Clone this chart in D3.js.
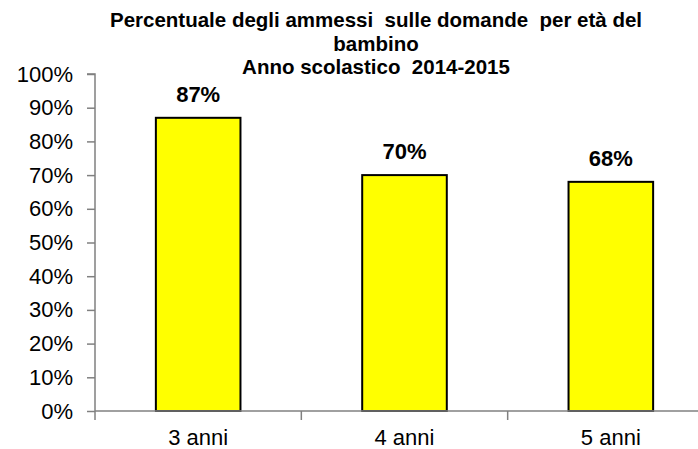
<!DOCTYPE html>
<html>
<head>
<meta charset="utf-8">
<script src="https://cdn.jsdelivr.net/npm/d3@7"></script>
<style>
  body { margin: 0; background: #fff; }
  text { font-family: Arial, "Liberation Sans", sans-serif; }
</style>
</head>
<body>
<div id="chart"></div>
<script>
// data
const categories = ['3 anni', '4 anni', '5 anni'];
const values = [0.87, 0.70, 0.68];
const valueLabels = ['87%', '70%', '68%'];
const yTicks = [0, 0.1, 0.2, 0.3, 0.4, 0.5, 0.6, 0.7, 0.8, 0.9, 1.0];
const titleLines = [
    'Percentuale degli ammessi  sulle domande  per età del',
    'bambino',
    'Anno scolastico  2014-2015'
];

const width = 698;
const height = 449;
const left = 95;
const right = 714;   // plot runs past the right edge in the original
const zeroY = 411;
const topY = 74;

const svg = d3.select('#chart')
    .append('svg')
    .attr('width', width)
    .attr('height', height);

const x = d3.scaleBand()
    .domain(categories)
    .range([left, right])
    .padding(0);

const y = d3.scaleLinear()
    .domain([0, 1])
    .range([zeroY, topY]);

const barW = x.bandwidth() * 0.41;

// title
svg.append('g')
    .selectAll('text')
    .data(titleLines)
    .enter()
    .append('text')
    .attr('x', 376)
    .attr('y', (d, i) => 27 + i * 23.5)
    .attr('text-anchor', 'middle')
    .attr('font-size', 20.5)
    .attr('font-weight', 'bold')
    .attr('fill', '#000')
    .style('white-space', 'pre')
    .text(d => d);

// bars
svg.append('g')
    .selectAll('rect')
    .data(values)
    .enter()
    .append('rect')
    .attr('x', (d, i) => x(categories[i]) + (x.bandwidth() - barW) / 2)
    .attr('y', d => y(d))
    .attr('width', barW)
    .attr('height', d => zeroY - y(d))
    .attr('fill', '#ffff00')
    .attr('stroke', '#000')
    .attr('stroke-width', 2);

// value labels
svg.append('g')
    .selectAll('text')
    .data(values)
    .enter()
    .append('text')
    .attr('x', (d, i) => x(categories[i]) + x.bandwidth() / 2)
    .attr('y', d => y(d) - 16)
    .attr('text-anchor', 'middle')
    .attr('font-size', 22)
    .attr('font-weight', 'bold')
    .text((d, i) => valueLabels[i]);

// y axis
const yAxis = svg.append('g')
    .attr('transform', `translate(${left},0)`)
    .call(d3.axisLeft(y)
        .tickValues(yTicks)
        .tickSize(8)
        .tickPadding(14)
        .tickFormat(d3.format('.0%')));
yAxis.select('.domain').attr('stroke', '#808080').attr('stroke-width', 1.5).attr('d', `M-8,${topY}H0V${zeroY}`);
yAxis.selectAll('.tick line').attr('stroke', '#808080').attr('stroke-width', 1.5);
yAxis.selectAll('.tick text')
    .attr('font-size', 22)
    .attr('font-family', 'Arial, "Liberation Sans", sans-serif')
    .attr('fill', '#000');

// x axis
const xAxis = svg.append('g')
    .attr('transform', `translate(0,${zeroY})`);
xAxis.append('line')
    .attr('x1', left).attr('x2', right)
    .attr('y1', 0).attr('y2', 0)
    .attr('stroke', '#808080')
    .attr('stroke-width', 1.5);
xAxis.selectAll('line.tk')
    .data(categories)
    .enter()
    .append('line')
    .attr('class', 'tk')
    .attr('x1', d => x(d)).attr('x2', d => x(d))
    .attr('y1', 0).attr('y2', 9)
    .attr('stroke', '#808080')
    .attr('stroke-width', 1.5);
xAxis.selectAll('text')
    .data(categories)
    .enter()
    .append('text')
    .attr('x', d => x(d) + x.bandwidth() / 2)
    .attr('y', 34)
    .attr('text-anchor', 'middle')
    .attr('font-size', 22)
    .text(d => d);
</script>
</body>
</html>
